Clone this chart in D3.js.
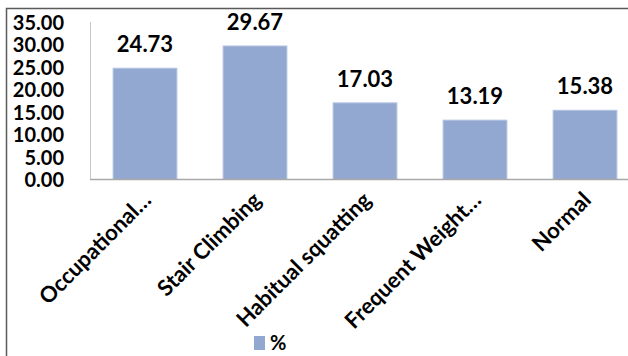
<!DOCTYPE html>
<html>

<head>
  <title>Bar chart</title>
  <meta charset="utf-8" />
  <script src="https://d3js.org/d3.v7.min.js"></script>
  <style>
    body { margin: 0; background: #fff; }
    text { font-family: Lato, "Liberation Sans", sans-serif; font-weight: bold; fill: #000; }
  </style>
</head>

<body>
  <div id="chart"></div>
  <script type="text/javascript">

    var categories = ["Occupational\u2026", "Stair Climbing", "Habitual squatting", "Frequent Weight\u2026", "Normal"]
    var values = [24.73, 29.67, 17.03, 13.19, 15.38]
    var yTicks = [0, 5, 10, 15, 20, 25, 30, 35]
    var seriesName = "%"

    var width = 628, height = 356

    var svg = d3.select("#chart").append("svg")
      .attr("width", width)
      .attr("height", height)

    /* frame of the original picture, cropped right and bottom */
    svg.append("rect")
      .attr("x", 6.5).attr("y", 8.5)
      .attr("width", 700).attr("height", 400)
      .attr("fill", "none")
      .attr("stroke", "#5a5a5a")
      .attr("stroke-width", 1.5)

    var x = d3.scaleBand()
      .domain(categories)
      .range([90, 640])
      .paddingInner(0.42)
      .paddingOuter(0.21)

    var y = d3.scaleLinear()
      .domain([0, 35])
      .range([179.5, 22])

    // y axis
    var yAxis = svg.append("g")
      .attr("transform", "translate(90,0)")
      .call(d3.axisLeft(y).tickValues(yTicks).tickSize(0).tickPadding(26).tickFormat(d3.format(".2f")))
    yAxis.select(".domain").attr("stroke", "#c8c8c8").attr("d", "M0.5," + y(35) + "V" + y(0))
    yAxis.selectAll("text").style("font-size", "20px").attr("dy", "0.36em")

    // bars
    svg.selectAll("rect.bar")
      .data(values)
      .enter().append("rect")
      .attr("class", "bar")
      .attr("x", function (d, i) { return x(categories[i]) })
      .attr("y", function (d) { return y(d) })
      .attr("width", x.bandwidth())
      .attr("height", function (d) { return y(0) - y(d) })
      .attr("fill", "#93a8d0")
      .attr("stroke", "#b4c3e2")
      .attr("stroke-width", 1)

    // x axis line
    svg.append("line")
      .attr("x1", 90).attr("x2", 640)
      .attr("y1", y(0)).attr("y2", y(0))
      .attr("stroke", "#a8a8a8")
      .attr("stroke-width", 1.5)

    // value labels
    svg.selectAll("text.val")
      .data(values)
      .enter().append("text")
      .attr("class", "val")
      .attr("x", function (d, i) { return x(categories[i]) + x.bandwidth() / 2 })
      .attr("y", function (d) { return y(d) - 16 })
      .attr("text-anchor", "middle")
      .style("font-size", "22px")
      .text(function (d) { return d.toFixed(2) })

    // category labels
    svg.selectAll("text.cat")
      .data(categories)
      .enter().append("text")
      .attr("class", "cat")
      .attr("text-anchor", "end")
      .attr("dy", "0.35em")
      .attr("transform", function (d) {
        return "translate(" + (x(d) + x.bandwidth() / 2 + 2) + ",196) rotate(-45)"
      })
      .style("font-size", "22px")
      .text(function (d) { return d })

    // legend
    svg.append("rect")
      .attr("x", 254).attr("y", 336)
      .attr("width", 11).attr("height", 14)
      .attr("fill", "#93a8d0")
    svg.append("text")
      .attr("x", 270).attr("y", 350)
      .style("font-size", "20px")
      .text(seriesName)

  </script>
</body>

</html>
